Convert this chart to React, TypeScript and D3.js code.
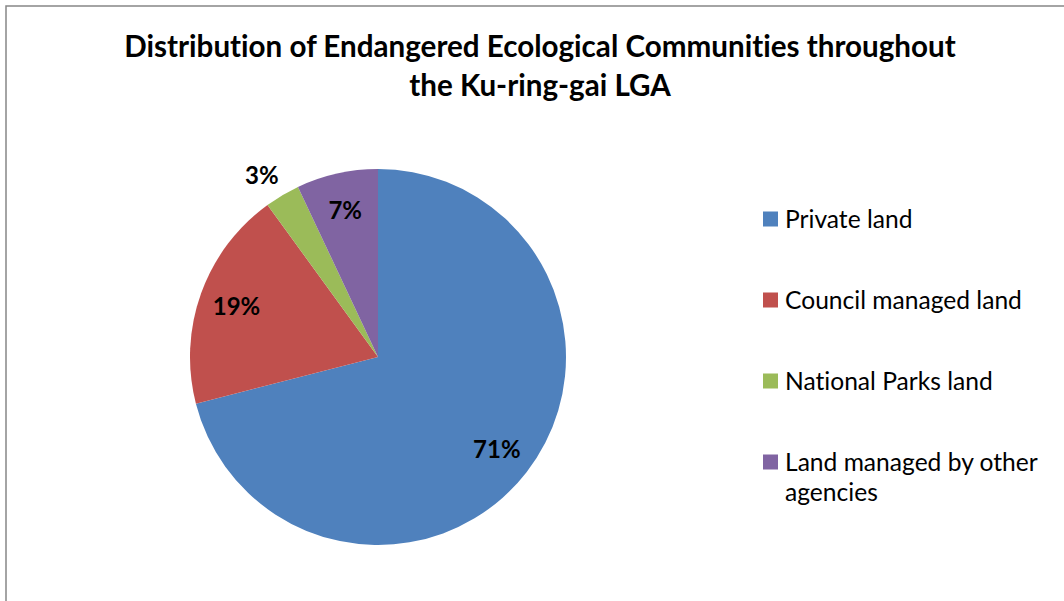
import React from "react";
import * as d3 from "d3";

const categories = ["Private land", "Council managed land", "National Parks land", "Land managed by other agencies"];
const values = [71, 19, 3, 7];
const colors = ["#4F81BD", "#C0504D", "#9BBB59", "#8064A2"];
const titleLines = ["Distribution of Endangered Ecological Communities throughout", "the Ku-ring-gai LGA"];
const legendLines = [["Private land"], ["Council managed land"], ["National Parks land"], ["Land managed by other", "agencies"]];

const W = 1064;
const H = 601;
const FONT = "Lato, 'Open Sans', sans-serif";
const noLig = { fontVariantLigatures: "none" as const, fontFeatureSettings: "'liga' 0" };

export default function App() {
  const cx = 378;
  const cy = 357;
  const R = 188;
  const total = d3.sum(values);
  const pie = d3.pie<number>().sort(null).value((d) => d)(values);
  const arc = d3.arc<d3.PieArcDatum<number>>().innerRadius(0).outerRadius(R);

  const legendY = d3.scalePoint<number>().domain(d3.range(values.length)).range([219, 462]);

  return (
    <svg width={W} height={H} style={{ position: "absolute", left: 0, top: 0, background: "#fff" }}>
      <rect x={6} y={6} width={W + 20} height={H + 20} fill="#fff" stroke="#878787" strokeWidth={1.5} />
      {titleLines.map((t, i) => (
        <text key={i} x={540} y={57 + i * 39} textAnchor="middle" fontFamily={FONT} fontWeight={700} fontSize={29.6} fill="#000" style={noLig}>
          {t}
        </text>
      ))}
      <g transform={`translate(${cx},${cy})`}>
        {pie.map((p, i) => (
          <path key={i} d={arc(p) || ""} fill={colors[i]} />
        ))}
        {pie.map((p, i) => {
          const mid = (p.startAngle + p.endAngle) / 2;
          const share = p.value / total;
          const outside = share < 0.05;
          const r = outside ? R * 1.12 : R * 0.8;
          let x = Math.sin(mid) * r;
          const y = -Math.cos(mid) * r;
          if (outside) x -= 9;
          return (
            <text key={i} x={x} y={y} dy="0.36em" textAnchor="middle" fontFamily={FONT} fontWeight={700} fontSize={24} fill="#000">
              {d3.format(".0%")(share)}
            </text>
          );
        })}
      </g>
      {categories.map((c, i) => (
        <g key={c} transform={`translate(763,${legendY(i)})`}>
          <rect x={0} y={-7.5} width={15} height={15} fill={colors[i]} />
          <text x={22} y={0} fontFamily={FONT} fontSize={24.6} fill="#000" style={noLig}>
            {legendLines[i].map((l, j) => (
              <tspan key={j} x={22} dy={j === 0 ? "0.36em" : 30}>
                {l}
              </tspan>
            ))}
          </text>
        </g>
      ))}
    </svg>
  );
}
